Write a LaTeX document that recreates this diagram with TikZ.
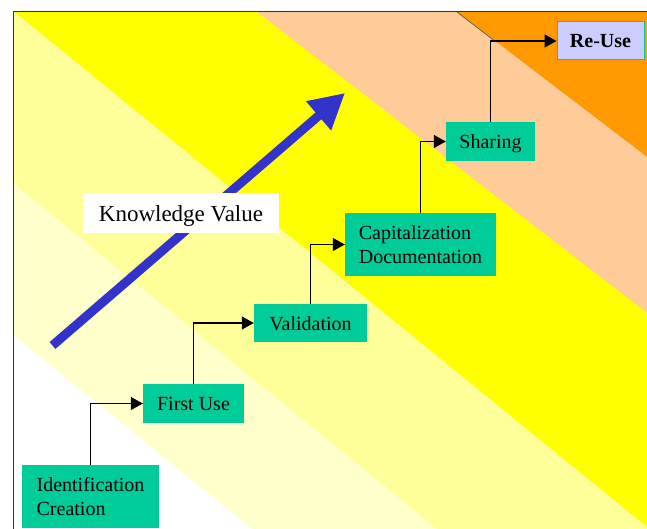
\documentclass[tikz,border=0pt]{standalone}
\usepackage{fontspec}
\setmainfont{Liberation Serif}
\usetikzlibrary{arrows.meta}

\definecolor{palest}{HTML}{FFFFCC}
\definecolor{pale}{HTML}{FFFF99}
\definecolor{brightyellow}{HTML}{FFFF00}
\definecolor{peach}{HTML}{FFCC99}
\definecolor{deeporange}{HTML}{FF9900}
\definecolor{stagegreen}{HTML}{00CC99}
\definecolor{lavender}{HTML}{CCCCFF}
\definecolor{valueblue}{HTML}{3333CC}

\begin{document}
\begin{tikzpicture}[x=1pt, y=-1pt,
    every node/.style={inner sep=0pt, font=\fontsize{20}{24}\selectfont},
    stage/.style={fill=stagegreen, align=left},
    oneline/.style={text height=14pt, text depth=0pt},
    stagelink/.style={line width=1.3pt, -{Triangle[length=12pt, width=13pt]}}]
        \useasboundingbox (0,0) rectangle (647,529);

        % bands, from the far corner down to the lower left
        \fill[deeporange] (13,12) rectangle (647,529);
        \fill[peach] (457,12) -- (647,157) -- (647,529) -- (13,529) -- (13,12) -- cycle;
        \fill[brightyellow] (257,12) -- (647,313) -- (647,529) -- (13,529) -- (13,12) -- cycle;
        \fill[pale] (13,11) -- (647,527) -- (647,529) -- (13,529) -- cycle;
        \fill[palest] (13,183) -- (437,529) -- (13,529) -- cycle;
        \fill[white] (13,335) -- (252,529) -- (13,529) -- cycle;
        \draw[line width=0.6pt, black!70] (457,12) -- (496,42);
        \draw[line width=1pt, black!80] (13,529) -- (13,12) -- (647,12);

        % knowledge value arrow
        \coordinate (kvtail) at (52.5,345.5);
        \coordinate (kvtip) at (345,93);
        \draw[valueblue, line width=9pt, -{Triangle[length=35pt, width=36pt]}] (kvtail) -- (kvtip);
        \node[fill=white, minimum width=196pt, minimum height=40pt, text height=17pt, text depth=0pt,
              font=\fontsize{23}{27}\selectfont] (kv) at (181,213) {Knowledge Value};

        % stages
        \node[stage, minimum width=137pt, minimum height=63pt] (ident) at (90.5,496.5) {Identification\\Creation};
        \node[stage, oneline, minimum width=101pt, minimum height=39pt] (first) at (193.5,403.5) {First Use};
        \node[stage, oneline, minimum width=113pt, minimum height=38pt] (valid) at (310.5,323) {Validation};
        \node[stage, minimum width=151pt, minimum height=63pt] (capit) at (420.5,244.5) {Capitalization\\Documentation};
        \node[stage, oneline, minimum width=89pt, minimum height=39pt] (share) at (490.5,141.5) {Sharing};
        \node[fill=lavender, draw=stagegreen, line width=1pt, oneline, minimum width=87pt, minimum height=38pt,
              font=\fontsize{20}{24}\selectfont\bfseries] (reuse) at (600.5,41) {Re-Use};

        \draw[stagelink] (ident.north) |- (first.west);
        \draw[stagelink] (first.north) |- (valid.west);
        \draw[stagelink] (valid.north) |- (capit.west);
        \draw[stagelink] (capit.north) |- (share.west);
        \draw[stagelink] (share.north) |- (reuse.west);
\end{tikzpicture}
\end{document}
